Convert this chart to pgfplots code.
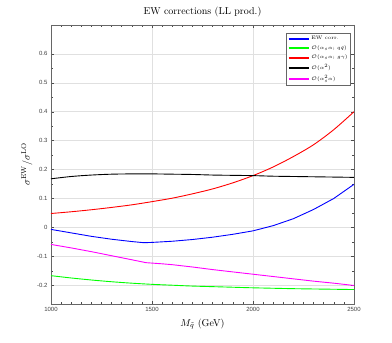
\documentclass[border=0pt]{standalone}
\usepackage{fontspec}
\usepackage{pgfplots}
\pgfplotsset{compat=1.18}
\newfontfamily\ticksans{Liberation Sans}
\definecolor{mlmagenta}{rgb}{1,0,1}

\begin{document}
\begin{tikzpicture}
    % fixes the page to the reference's frame around the axis box
    \path[use as bounding box] (-51pt,-39pt) rectangle (341pt,304pt);
    \begin{axis}[
        scale only axis,
        width=303pt, height=279pt,
        xmin=1000, xmax=2500,
        ymin=-0.265, ymax=0.7,
        xtick={1000,1500,2000,2500},
        ytick={-0.2,-0.1,0,0.1,0.2,0.3,0.4,0.5,0.6},
        minor x tick num=9,
        minor y tick num=1,
        tick align=inside,
        major tick length=3pt, minor tick length=2pt,
        every tick/.style={black!70},
        axis line style={black!60, line width=0.6pt},
        grid=major,
        major grid style={black!12, line width=0.5pt},
        /pgf/number format/assume math mode=true,
        /pgf/number format/1000 sep={},
        tick label style={font=\fontsize{6}{7}\selectfont\ticksans, text=black!75},
        title={EW corrections (LL prod.)},
        title style={yshift=-2pt},
        xlabel={$M_{\tilde q}$ (GeV)},
        ylabel={$\sigma^{\rm EW}/\sigma^{\rm LO}$},
        ylabel style={yshift=-2pt},
        legend style={at={(rel axis cs:1,1)}, anchor=north east,
            xshift=-3pt, yshift=-8pt,
            font=\fontsize{5}{6}\selectfont,
            draw=black!60, line width=0.6pt, inner sep=1pt,
            row sep=0.3pt},
        legend cell align=left,
        legend image code/.code={\draw[#1, sharp plot, line width=1.8pt] (0pt,0pt) -- (20pt,0pt);},
        every axis plot/.append style={line width=0.9pt},
    ]
        \addplot[blue] coordinates {
            (1000,-0.007) (1100,-0.019) (1200,-0.031) (1300,-0.041) (1400,-0.049)
            (1460,-0.053) (1500,-0.052) (1600,-0.048) (1700,-0.042) (1800,-0.034)
            (1900,-0.024) (2000,-0.012) (2100,0.006) (2200,0.030) (2300,0.062)
            (2400,0.100) (2500,0.149)};
        \addlegendentry{EW corr.}
        \addplot[green, smooth] coordinates {
            (1000,-0.167) (1100,-0.175) (1200,-0.182) (1300,-0.188) (1400,-0.193)
            (1500,-0.197) (1600,-0.200) (1700,-0.203) (1800,-0.205) (1900,-0.207)
            (2000,-0.209) (2200,-0.212) (2400,-0.214) (2500,-0.215)};
        \addlegendentry{$\mathcal{O}(\alpha_s\alpha;\,q\bar q)$}
        \addplot[red, smooth] coordinates {
            (1000,0.048) (1100,0.054) (1200,0.061) (1300,0.069) (1400,0.078)
            (1500,0.089) (1600,0.101) (1700,0.116) (1800,0.133) (1900,0.154)
            (2000,0.179) (2100,0.209) (2200,0.245) (2300,0.286) (2400,0.338)
            (2500,0.400)};
        \addlegendentry{$\mathcal{O}(\alpha_s\alpha;\,g\gamma)$}
        \addplot[black, smooth] coordinates {
            (1000,0.168) (1100,0.176) (1200,0.181) (1300,0.184) (1400,0.185)
            (1500,0.185) (1600,0.184) (1700,0.183) (1800,0.181) (1900,0.180)
            (2000,0.179) (2100,0.177) (2200,0.176) (2300,0.175) (2400,0.174)
            (2500,0.173)};
        \addlegendentry{$\mathcal{O}(\alpha^2)$}
        \addplot[mlmagenta] coordinates {
            (1000,-0.059) (1100,-0.071) (1200,-0.084) (1300,-0.098) (1400,-0.112)
            (1470,-0.122) (1550,-0.126) (1600,-0.129) (1700,-0.137) (1800,-0.146)
            (1900,-0.154) (2000,-0.162) (2100,-0.170) (2200,-0.178) (2300,-0.186)
            (2400,-0.193) (2500,-0.201)};
        \addlegendentry{$\mathcal{O}(\alpha_s^2\alpha)$}
    \end{axis}
\end{tikzpicture}
\end{document}
